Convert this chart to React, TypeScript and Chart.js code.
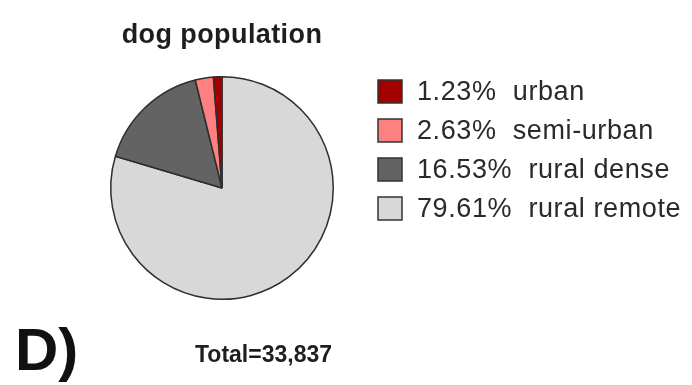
import React, { useEffect, useRef } from "react";
import { Chart, registerables } from "chart.js";

Chart.register(...registerables);

// ---- data ----
const categories = ["urban", "semi-urban", "rural dense", "rural remote"];
const percentages = [1.23, 2.63, 16.53, 79.61];
const sliceColors = ["#a30000", "#ff8080", "#636363", "#d8d8d8"];
const chartTitle = "dog population";
const totalLabel = "Total=33,837";
const panelLabel = "D)";

const FONT = '"Liberation Sans", Arial, Helvetica, sans-serif';

export default function App() {
  const canvasRef = useRef<HTMLCanvasElement | null>(null);

  useEffect(() => {
    const canvas = canvasRef.current;
    if (!canvas) return;

    // pie is drawn clockwise from 12 o'clock, so reverse to match the figure
    const pieLabels = [...categories].reverse();
    const pieData = [...percentages].reverse();
    const pieColors = [...sliceColors].reverse();

    const textPlugin = {
      id: "figureText",
      afterDraw(chart: any) {
        const ctx: any = chart.ctx;
        const area = chart.chartArea;
        const cx = (area.left + area.right) / 2;
        ctx.save();
        ctx.textBaseline = "alphabetic";

        // title
        ctx.fillStyle = "#1e1e1e";
        ctx.textAlign = "center";
        ctx.font = `bold 27px ${FONT}`;
        ctx.letterSpacing = "0.4px";
        ctx.fillText(chartTitle, cx, 43);

        // total
        ctx.letterSpacing = "0px";
        ctx.font = `bold 23px ${FONT}`;
        ctx.textAlign = "left";
        ctx.fillText(totalLabel, 195, 362);

        // panel label
        ctx.fillStyle = "#111";
        ctx.font = `bold 60px ${FONT}`;
        ctx.fillText(panelLabel, 15, 370);

        // legend
        const boxX = 378;
        const boxW = 24;
        const boxH = 23;
        const top0 = 80;
        const step = 39;
        ctx.font = `27px ${FONT}`;
        ctx.letterSpacing = "0.6px";
        ctx.textBaseline = "middle";
        categories.forEach((cat, i) => {
          const y = top0 + step * i;
          ctx.fillStyle = sliceColors[i];
          ctx.fillRect(boxX, y, boxW, boxH);
          ctx.strokeStyle = "#333";
          ctx.lineWidth = 1.5;
          ctx.strokeRect(boxX, y, boxW, boxH);
          ctx.fillStyle = "#2a2a2a";
          ctx.fillText(`${percentages[i].toFixed(2)}%  ${cat}`, 417, y + boxH / 2 + 1);
        });
        ctx.restore();
      },
    };

    const chart = new Chart(canvas, {
      type: "pie",
      data: {
        labels: pieLabels,
        datasets: [
          {
            data: pieData,
            backgroundColor: pieColors,
            borderColor: "#2e2e2e",
            borderWidth: 1.5,
          },
        ],
      },
      options: {
        responsive: false,
        animation: false,
        events: [],
        layout: { padding: { left: 110, top: 76, right: 358, bottom: 85 } },
        plugins: {
          legend: { display: false },
          title: { display: false },
          tooltip: { enabled: false },
        },
      },
      plugins: [textPlugin],
    });

    return () => chart.destroy();
  }, []);

  return (
    <div style={{ position: "fixed", left: 0, top: 0, width: 692, height: 385, background: "#fff" }}>
      <canvas ref={canvasRef} width={692} height={385} style={{ width: 692, height: 385, display: "block" }} />
    </div>
  );
}
